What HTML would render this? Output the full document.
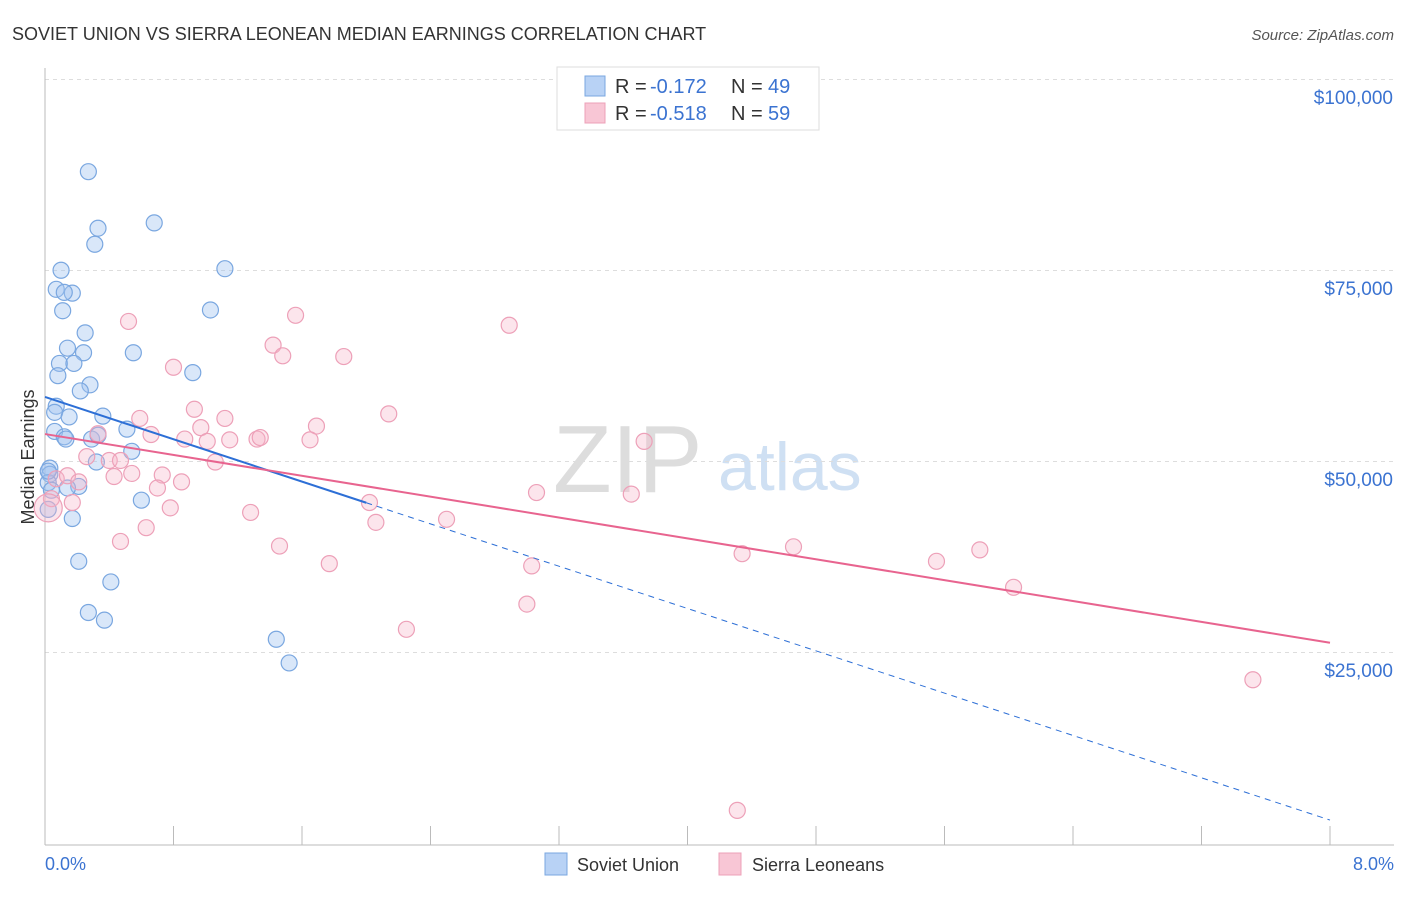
<!DOCTYPE html>
<html><head><meta charset="utf-8"><style>
body{margin:0;background:#fff;font-family:"Liberation Sans",sans-serif;}
svg text{font-family:"Liberation Sans",sans-serif;}
</style></head><body>
<svg id="chart" width="1406" height="892">
<text x="12" y="40" font-size="18" fill="#333">SOVIET UNION VS SIERRA LEONEAN MEDIAN EARNINGS CORRELATION CHART</text>
<text x="1394" y="40" font-size="15" fill="#555" font-style="italic" text-anchor="end">Source: ZipAtlas.com</text>
<text x="553" y="492" font-size="96" fill="#ddd" font-family="Liberation Serif">ZIP</text>
<text x="718" y="490" font-size="68" fill="#cfe0f3">atlas</text>
<g id="grid"></g><g id="axes"></g><g id="pts"></g><g id="lines"></g>
<text transform="translate(34,457) rotate(-90)" font-size="18" fill="#333" text-anchor="middle">Median Earnings</text>
<text x="45" y="870" font-size="18" fill="#3b73d1">0.0%</text>
<text x="1394" y="870" font-size="18" fill="#3b73d1" text-anchor="end">8.0%</text>
<g>
<rect x="557" y="67" width="262" height="63" fill="#fff" stroke="#ddd"/>
<rect x="585" y="76" width="20" height="20" fill="#b8d2f5" stroke="#7aa7e0"/>
<rect x="585" y="103" width="20" height="20" fill="#f8c6d5" stroke="#eda0b8"/>
<text x="615" y="93" font-size="20" fill="#333">R =</text>
<text x="650" y="93" font-size="20" fill="#3b73d1">-0.172</text>
<text x="731" y="93" font-size="20" fill="#333">N =</text>
<text x="768" y="93" font-size="20" fill="#3b73d1">49</text>
<text x="615" y="120" font-size="20" fill="#333">R =</text>
<text x="650" y="120" font-size="20" fill="#3b73d1">-0.518</text>
<text x="731" y="120" font-size="20" fill="#333">N =</text>
<text x="768" y="120" font-size="20" fill="#3b73d1">59</text>
</g>
<g>
<rect x="545" y="853" width="22" height="22" fill="#b8d2f5" stroke="#7aa7e0"/>
<text x="577" y="871" font-size="18" fill="#333">Soviet Union</text>
<rect x="719" y="853" width="22" height="22" fill="#f8c6d5" stroke="#eda0b8"/>
<text x="752" y="871" font-size="18" fill="#333">Sierra Leoneans</text>
</g>
</svg>
<script>
const yTicks=[25000,50000,75000,100000];
const yTickLabels=["$25,000","$50,000","$75,000","$100,000"];
const sovietX=[0.27,0.68,0.33,0.31,0.10,1.12,0.07,0.17,0.12,0.11,1.03,0.25,0.55,0.14,0.24,0.09,0.18,0.08,0.92,0.28,0.22,0.07,0.06,0.15,0.36,0.06,0.51,0.12,0.13,0.29,0.33,0.54,0.32,0.03,0.03,0.02,0.04,0.21,0.14,0.60,0.02,0.17,0.21,0.41,0.27,0.37,1.44,1.52,0.02];
const sovietY=[88000,81300,80600,78500,75100,75300,72600,72100,72200,69800,69900,66900,64300,64900,64300,62900,62900,61300,61700,60100,59300,57300,56500,55900,56000,54000,54300,53300,53000,53000,53500,51400,50000,49200,48400,47300,46300,46800,46600,45000,43800,42600,37000,34300,30300,29300,26800,23700,48800];
const leoneX=[0.52,1.56,2.89,1.42,1.48,1.86,0.80,0.93,2.14,0.59,1.12,1.69,0.66,0.87,1.65,0.97,0.33,1.32,1.15,1.01,1.34,3.73,0.26,0.40,1.06,0.47,0.54,0.73,0.07,0.14,0.85,0.21,0.70,0.43,3.06,3.65,0.04,0.17,2.02,0.78,1.28,2.50,2.06,0.63,0.47,1.46,4.34,4.66,5.82,5.55,1.77,3.03,6.03,3.00,2.25,7.52,4.31,0.02];
const leoneY=[68400,69200,67900,65300,63900,63800,62400,56900,56300,55700,55700,54700,53600,53000,52900,54500,53700,53000,52900,52700,53200,52700,50700,50200,50000,50200,48500,48300,47800,48200,47400,47400,46600,48100,46000,45800,45200,44700,44700,44000,43400,42500,42100,41400,39600,39000,38000,38900,38500,37000,36700,36400,33600,31400,28100,21500,4400,44000];
const X=v=>45+v/8*1285, Y=v=>844-v/25000*191;
const ns="http://www.w3.org/2000/svg";
function mk(tag,attrs,parent){const e=document.createElementNS(ns,tag);for(const k in attrs)e.setAttribute(k,attrs[k]);document.getElementById(parent).appendChild(e);return e;}
yTicks.forEach((t,i)=>{
 const g=mk('line',{x1:45,x2:1394,y1:Y(t)-0.5,y2:Y(t)-0.5,stroke:'#ddd','stroke-dasharray':'4,4'},'grid');
 
 
 const l=mk('text',{x:1393,y:Y(t)+24,'font-size':19,fill:'#3b73d1','text-anchor':'end'},'grid');
 l.textContent=yTickLabels[i];
 
 
});
const ax=mk('line',{x1:45,x2:45,y1:68,y2:845,stroke:'#bbb'},'axes');


const bx=mk('line',{x1:45,x2:1394,y1:845,y2:845,stroke:'#bbb'},'axes');


for(let i=0;i<=10;i++){const t=mk('line',{x1:X(i*0.8),x2:X(i*0.8),y1:826,y2:845,stroke:'#bbb'},'axes');
 
 }
sovietX.forEach((x,i)=>{const c=mk('circle',{cx:X(x),cy:Y(sovietY[i]),r:8,fill:'rgba(160,196,240,0.4)',stroke:'#7aa7e0','stroke-width':1.2},'pts');
 
 });
leoneX.forEach((x,i)=>{const c=mk('circle',{cx:X(x),cy:Y(leoneY[i]),r:i==leoneX.length-1?14:8,fill:'rgba(245,180,200,0.35)',stroke:'#eda0b8','stroke-width':1.2},'pts');
 
 });
function fit(xs,ys){const n=xs.length,mx=xs.reduce((a,b)=>a+b)/n,my=ys.reduce((a,b)=>a+b)/n;let sxy=0,sxx=0;xs.forEach((x,i)=>{sxy+=(x-mx)*(ys[i]-my);sxx+=(x-mx)**2});const b=sxy/sxx;return [my-b*mx,b];}
const [a1,b1]=fit(sovietX,sovietY),[a2,b2]=fit(leoneX,leoneY);
const l1=mk('line',{x1:X(0),y1:Y(a1),x2:X(2),y2:Y(a1+b1*2),stroke:'#2d6fd6','stroke-width':2},'lines');


const l1d=mk('line',{x1:X(2),y1:Y(a1+b1*2),x2:X(8),y2:Y(a1+b1*8),stroke:'#2d6fd6','stroke-width':1,'stroke-dasharray':'6,5'},'lines');


const l2=mk('line',{x1:X(0),y1:Y(a2),x2:X(8),y2:Y(a2+b2*8),stroke:'#e8648f','stroke-width':2},'lines');


</script>
</body></html>
